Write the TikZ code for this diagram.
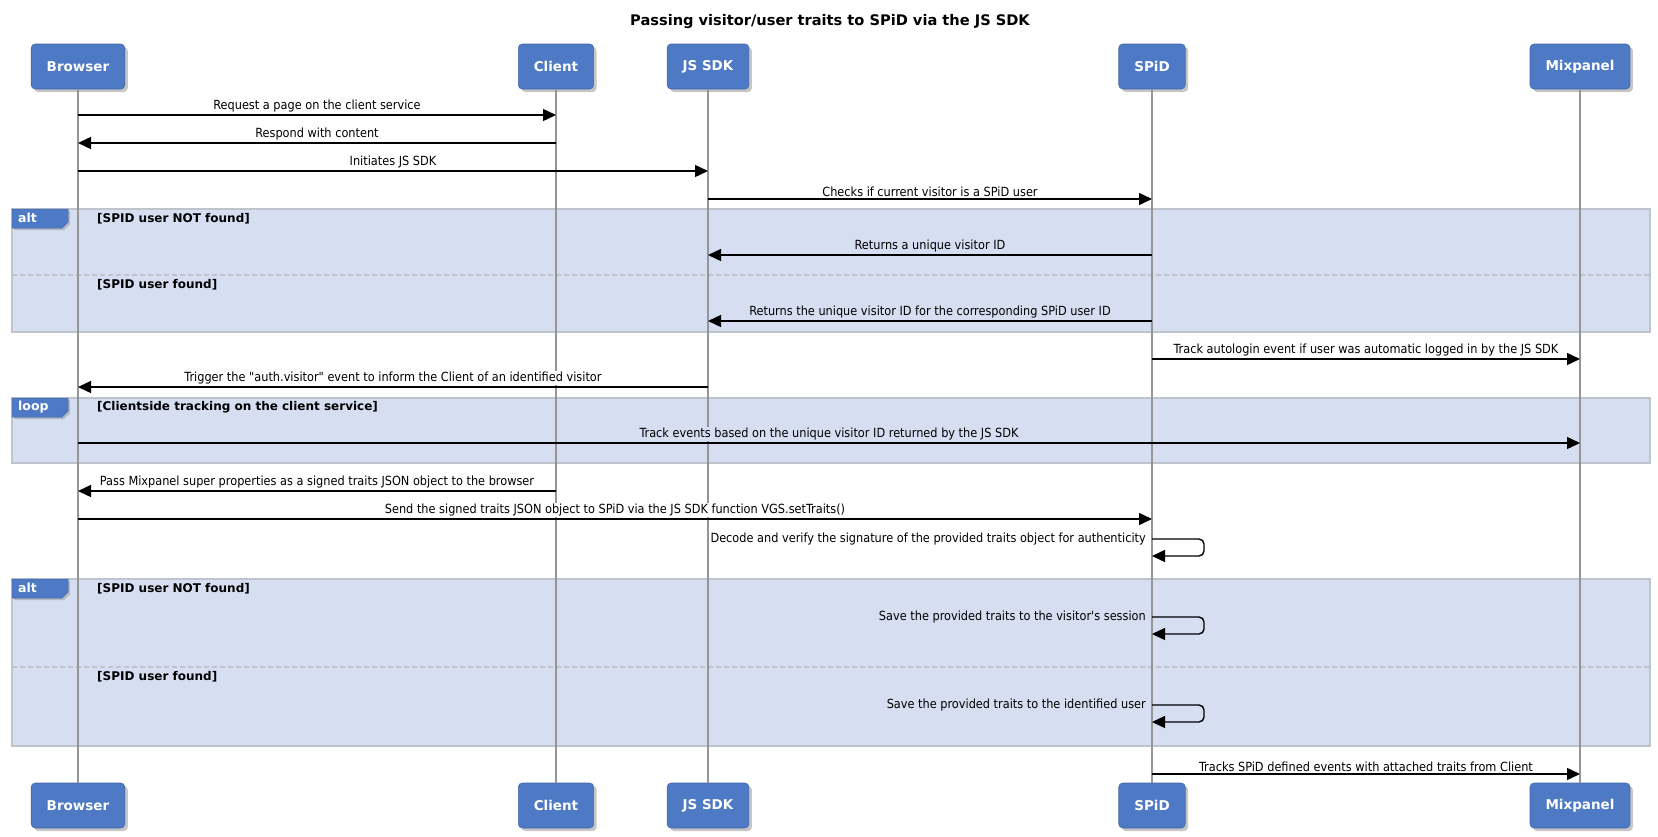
\documentclass[tikz,border=0pt]{standalone}
\usepackage{fontspec}
\setmainfont{DejaVu Sans}
\newfontfamily\msgfont{DejaVu Sans Condensed}
\usetikzlibrary{arrows.meta, positioning, shadows}

\definecolor{partblue}{HTML}{4E79C5}
\definecolor{grpfill}{HTML}{D6DFF1}
\definecolor{grpline}{HTML}{BFC4CB}
\definecolor{lifegray}{HTML}{959595}

\begin{document}
\begin{tikzpicture}[x=1pt, y=-1pt,
    actor/.style={rectangle, rounded corners=4pt, fill=partblue,
            draw=partblue!85!black, line width=0.6pt, text=white,
            font=\bfseries\fontsize{13.5}{15}\selectfont, minimum
            height=45pt, inner xsep=15.5pt, drop shadow={shadow
            xshift=3pt, shadow yshift=-3pt, opacity=0.45}},
    life/.style={draw=lifegray, line width=1.8pt},
    msg/.style={draw=black, line width=1.4pt,
            -{Triangle[length=13pt, width=12pt]}},
    lbl/.style={midway, above=1pt, inner sep=1pt, fill=white,
            font=\msgfont\fontsize{12.6}{14}\selectfont},
    glbl/.style={lbl, fill=grpfill},
    selflbl/.style={anchor=east, inner sep=1pt,
            font=\msgfont\fontsize{12.6}{14}\selectfont},
    grp/.style={draw=grpline, line width=1.5pt, fill=grpfill},
    sep/.style={draw=grpline, dash pattern=on 5pt off 3pt,
            line width=1.2pt},
    tabshape/.style={fill=partblue, draw=partblue!85!black,
            line width=0.5pt, drop shadow={shadow xshift=2pt,
            shadow yshift=-2pt, opacity=0.4}},
    tabtxt/.style={anchor=west, inner sep=0pt, text=white,
            font=\bfseries\fontsize{12.5}{14}\selectfont},
    cond/.style={anchor=west, inner sep=0pt,
            font=\bfseries\fontsize{12}{14}\selectfont},
    ]

    \useasboundingbox (0,0) rectangle (1658,836);

    \node[font=\bfseries\fontsize{14.6}{17}\selectfont] (title) at
    (830,22) {Passing visitor/user traits to SPiD via the JS SDK};

    % groups
    \draw[grp] (12,209) rectangle (1650,332);
    \draw[sep] (12,275) -- (1650,275);
    \fill[tabshape] (12,209) -- (68,209) -- (68,222) -- (62,228)
    -- (12,228) -- cycle;
    \node[tabtxt] (alttag1) at (18,218) {alt};
    \node[cond] (cond1) at (97,219) {[SPID user NOT found]};
    \node[cond] (cond2) at (97,285) {[SPID user found]};

    \draw[grp] (12,398) rectangle (1650,463);
    \fill[tabshape] (12,398) -- (68,398) -- (68,411) -- (62,417)
    -- (12,417) -- cycle;
    \node[tabtxt] (looptag) at (18,407) {loop};
    \node[cond] (cond3) at (97,407) {[Clientside tracking on the
        client service]};

    \draw[grp] (12,579) rectangle (1650,746);
    \draw[sep] (12,667) -- (1650,667);
    \fill[tabshape] (12,579) -- (68,579) -- (68,592) -- (62,598)
    -- (12,598) -- cycle;
    \node[tabtxt] (alttag2) at (18,588) {alt};
    \node[cond] (cond4) at (97,589) {[SPID user NOT found]};
    \node[cond] (cond5) at (97,677) {[SPID user found]};

    % participants
    \node[actor] (browser) at (78,66.5) {Browser};
    \node[actor] (client) at (556,66.5) {Client};
    \node[actor] (jssdk) at (708,66.5) {JS SDK};
    \node[actor] (spid) at (1152,66.5) {SPiD};
    \node[actor] (mixpanel) at (1580,66.5) {Mixpanel};

    \node[actor] (browserB) at (78,805.5) {Browser};
    \node[actor] (clientB) at (556,805.5) {Client};
    \node[actor] (jssdkB) at (708,805.5) {JS SDK};
    \node[actor] (spidB) at (1152,805.5) {SPiD};
    \node[actor] (mixpanelB) at (1580,805.5) {Mixpanel};

    \draw[life] (browser.south) -- (browserB.north);
    \draw[life] (client.south) -- (clientB.north);
    \draw[life] (jssdk.south) -- (jssdkB.north);
    \draw[life] (spid.south) -- (spidB.north);
    \draw[life] (mixpanel.south) -- (mixpanelB.north);

    % message rows
    \coordinate (m1) at (0,115);
    \coordinate (m2) at (0,143);
    \coordinate (m3) at (0,171);
    \coordinate (m4) at (0,199);
    \coordinate (m5) at (0,255);
    \coordinate (m6) at (0,321);
    \coordinate (m7) at (0,359);
    \coordinate (m8) at (0,387);
    \coordinate (m9) at (0,443);
    \coordinate (m10) at (0,491);
    \coordinate (m11) at (0,519);
    \coordinate (s1) at (0,539);
    \coordinate (s1r) at (0,556);
    \coordinate (s2) at (0,617);
    \coordinate (s2r) at (0,634);
    \coordinate (s3) at (0,705);
    \coordinate (s3r) at (0,722);
    \coordinate (m12) at (0,774);

    \draw[msg] (browser |- m1) -- (client |- m1) node[lbl] {Request a
        page on the client service};
    \draw[msg] (client |- m2) -- (browser |- m2) node[lbl] {Respond
        with content};
    \draw[msg] (browser |- m3) -- (jssdk |- m3) node[lbl] {Initiates
        JS SDK};
    \draw[msg] (jssdk |- m4) -- (spid |- m4) node[lbl] {Checks if
        current visitor is a SPiD user};
    \draw[msg] (spid |- m5) -- (jssdk |- m5) node[glbl] {Returns a
        unique visitor ID};
    \draw[msg] (spid |- m6) -- (jssdk |- m6) node[glbl] {Returns the
        unique visitor ID for the corresponding SPiD user ID};
    \draw[msg] (spid |- m7) -- (mixpanel |- m7) node[lbl] {Track
        autologin event if user was automatic logged in by the JS SDK};
    \draw[msg] (jssdk |- m8) -- (browser |- m8) node[lbl] {Trigger the
        "auth.visitor" event to inform the Client of an identified
        visitor};
    \draw[msg] (browser |- m9) -- (mixpanel |- m9) node[glbl] {Track
        events based on the unique visitor ID returned by the JS SDK};
    \draw[msg] (client |- m10) -- (browser |- m10) node[lbl] {Pass
        Mixpanel super properties as a signed traits JSON object to the
        browser};
    \draw[msg] (browser |- m11) -- (spid |- m11) node[lbl] {Send the
        signed traits JSON object to SPiD via the JS SDK function
        VGS.setTraits()};

    \draw[msg, rounded corners=5pt] (spid |- s1) -- ++(52,0) --
    ++(0,17) -- (spid |- s1r);
    \node[selflbl, fill=white] (decode) at ([xshift=-5pt]spid |- s1)
    {Decode and verify the signature of the provided traits object for
        authenticity};
    \draw[msg, rounded corners=5pt] (spid |- s2) -- ++(52,0) --
    ++(0,17) -- (spid |- s2r);
    \node[selflbl] (savesess) at ([xshift=-5pt]spid |- s2) {Save the
        provided traits to the visitor\textquotesingle s session};
    \draw[msg, rounded corners=5pt] (spid |- s3) -- ++(52,0) --
    ++(0,17) -- (spid |- s3r);
    \node[selflbl] (saveuser) at ([xshift=-5pt]spid |- s3) {Save the
        provided traits to the identified user};

    \draw[msg] (spid |- m12) -- (mixpanel |- m12) node[lbl] {Tracks
        SPiD defined events with attached traits from Client};
\end{tikzpicture}
\end{document}
